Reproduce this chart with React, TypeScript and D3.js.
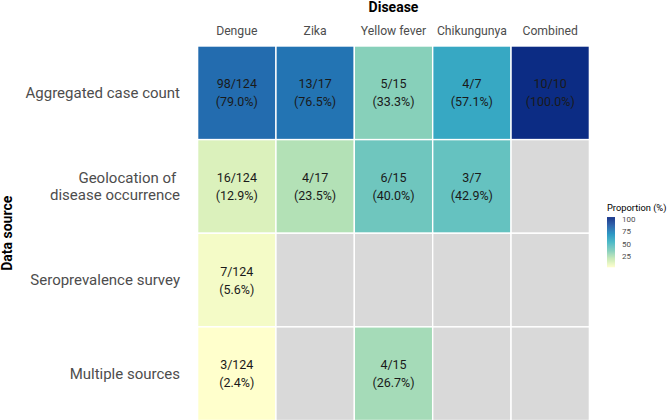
import React from "react";
import * as d3 from "d3";

const diseases = ["Dengue", "Zika", "Yellow fever", "Chikungunya", "Combined"];
const sources = [
  "Aggregated case count",
  "Geolocation of disease occurrence",
  "Seroprevalence survey",
  "Multiple sources",
];
const sourceLabelLines: string[][] = [
  ["Aggregated case count"],
  ["Geolocation of\u00a0", "disease occurrence"],
  ["Seroprevalence survey"],
  ["Multiple sources"],
];
// numerators per source row (null = no data), denominators per disease
const numerators: (number | null)[][] = [
  [98, 13, 5, 4, 10],
  [16, 4, 6, 3, null],
  [7, null, null, null, null],
  [3, null, 4, null, null],
];
const denominators = [124, 17, 15, 7, 10];
const legendBreaks = [25, 50, 75, 100];
const paletteYlGnBu = ["#ffffcc", "#c7e9b4", "#7fcdbb", "#41b6c4", "#1d91c0", "#225ea8", "#0c2c84"];

const W = 669;
const H = 420;
const FONT = "Roboto, 'Noto Sans', sans-serif";

export default function App() {
  const cells: { r: number; c: number; num: number | null; den: number; pct: number | null }[] = [];
  numerators.forEach((row, r) =>
    row.forEach((num, c) => {
      const den = denominators[c];
      cells.push({ r, c, num, den, pct: num == null ? null : (num / den) * 100 });
    })
  );
  const pcts = cells.filter((d) => d.pct != null).map((d) => d.pct as number);
  const lo = d3.min(pcts) as number;
  const hi = d3.max(pcts) as number;

  const color = d3
    .scaleLinear<string>()
    .domain(paletteYlGnBu.map((_, i) => lo + ((hi - lo) * i) / (paletteYlGnBu.length - 1)))
    .range(paletteYlGnBu)
    .interpolate(d3.interpolateLab);

  const x = d3.scaleBand().domain(diseases).range([197.6, 589.4]);
  const y = d3.scaleBand().domain(sources).range([46, 420.5]);

  const legTop = 217;
  const legBot = 267;
  const legX = 607;
  const legW = 8;
  const ly = d3.scaleLinear().domain([lo, hi]).range([legBot - 1, legTop + 1]);
  const steps = d3.range(0, 100);

  return (
    <svg
      width={W}
      height={H}
      style={{ position: "absolute", left: 0, top: 0, background: "#fff" }}
      fontFamily={FONT}
    >
      {/* tiles */}
      {cells.map((d, i) => (
        <rect
          key={i}
          x={x(diseases[d.c])}
          y={y(sources[d.r])}
          width={x.bandwidth()}
          height={y.bandwidth()}
          fill={d.pct == null ? "#D9D9D9" : color(d.pct)}
          stroke="#fff"
          strokeWidth={1.4}
        />
      ))}
      {/* tile labels */}
      {cells
        .filter((d) => d.num != null)
        .map((d, i) => {
          const cx = (x(diseases[d.c]) as number) + x.bandwidth() / 2;
          const cy = (y(sources[d.r]) as number) + y.bandwidth() / 2;
          return (
            <text key={i} textAnchor="middle" fontSize={12.5} fill="#1a1a1a">
              <tspan x={cx} y={cy - 4.5}>{`${d.num}/${d.den}`}</tspan>
              <tspan x={cx} y={cy + 13.5}>{`(${(d.pct as number).toFixed(1)}%)`}</tspan>
            </text>
          );
        })}
      {/* column labels */}
      {diseases.map((dz) => (
        <text
          key={dz}
          x={(x(dz) as number) + x.bandwidth() / 2}
          y={34.5}
          textAnchor="middle"
          fontSize={12.2}
          fill="#4d4d4d"
        >
          {dz}
        </text>
      ))}
      <text x={(197.6 + 589.4) / 2} y={12} textAnchor="middle" fontSize={14} fontWeight="bold" fill="#000">
        Disease
      </text>
      {/* row labels */}
      {sourceLabelLines.map((lines, r) => {
        const cy = (y(sources[r]) as number) + y.bandwidth() / 2;
        const lh = 16.7;
        const start = cy - ((lines.length - 1) * lh) / 2;
        return (
          <text key={r} textAnchor="end" fontSize={15} fill="#4d4d4d" style={{ whiteSpace: "pre" }}>
            {lines.map((ln, j) => (
              <tspan key={j} x={180} y={start + j * lh + 5}>
                {ln}
              </tspan>
            ))}
          </text>
        );
      })}
      <text
        transform={`translate(12,${(46 + 420.5) / 2}) rotate(-90)`}
        textAnchor="middle"
        fontSize={14}
        fontWeight="bold"
        fill="#000"
      >
        Data source
      </text>
      {/* legend */}
      <text x={607} y={211} fontSize={9.3} fill="#000">
        Proportion (%)
      </text>
      {steps.map((s) => {
        const v0 = lo + ((hi - lo) * s) / steps.length;
        const v1 = lo + ((hi - lo) * (s + 1)) / steps.length;
        const yTop = legBot - ((legBot - legTop) * (s + 1)) / steps.length;
        const hgt = (legBot - legTop) / steps.length;
        return <rect key={s} x={legX} y={yTop} width={legW} height={hgt + 0.3} fill={color((v0 + v1) / 2)} />;
      })}
      {legendBreaks.map((b) => (
        <text key={b} x={622} y={ly(b) + 4} fontSize={8} fill="#4d4d4d">
          {b}
        </text>
      ))}
    </svg>
  );
}
